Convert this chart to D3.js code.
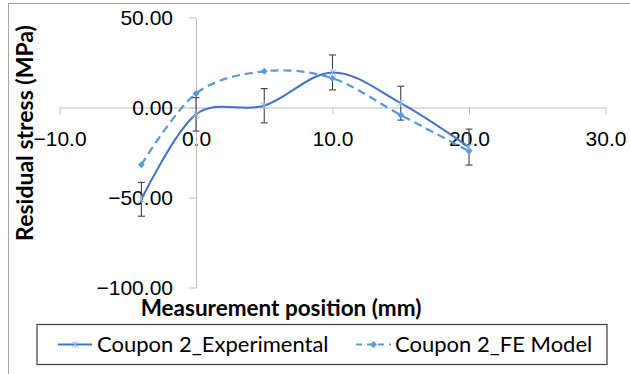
<!DOCTYPE html>
<html>
<head>
<meta charset="utf-8">
<script src="https://cdn.jsdelivr.net/npm/d3@7"></script>
<style>
    body { margin: 0; background: #fff; }
    svg { display: block; font-family: Lato, "Open Sans", sans-serif; }
</style>
</head>
<body>
<div id="chart"></div>
<script>
// Measurement positions (mm)
const positions = [-4, 0, 5, 10, 15, 20];
// Coupon 2 experimental residual stress (MPa) and its error bars
const experimental = [-51, -3.8, 1, 19.5, 2.4, -22];
const expError = [9.4, 9.3, 9.5, 9.7, 9.4, 10];
// Coupon 2 FE model residual stress (MPa)
const feModel = [-31.8, 7.7, 20.1, 16.2, -4.2, -24.2];

const xTicks = [-10, 0, 10, 20, 30];
const yTicks = [50, 0, -50, -100];
const seriesNames = ['Coupon 2_Experimental', 'Coupon 2_FE Model'];

const W = 630, H = 374;
const expColor = '#4472c4';
const feColor = '#5b9bd5';

const svg = d3.select('#chart')
    .append('svg')
    .attr('width', W)
    .attr('height', H);

// chart border (only top and left edges are visible)
svg.append('rect')
    .attr('x', 8.5).attr('y', 3.5)
    .attr('width', 640).attr('height', 400)
    .attr('fill', 'none')
    .attr('stroke', '#a6a6a6');

const x = d3.scaleLinear().domain([-10, 30]).range([59.5, 605.5]);
const y = d3.scaleLinear().domain([-100, 50]).range([287.5, 17.5]);

// x axis crosses at y = 0
const xAxis = svg.append('g')
    .attr('transform', `translate(0,${y(0)})`)
    .call(d3.axisBottom(x).tickValues(xTicks).tickSize(7).tickSizeOuter(0).tickFormat(d3.format('.1f')));

xAxis.select('.domain').attr('stroke', '#bfbfbf');
xAxis.selectAll('.tick line').attr('stroke', '#bfbfbf');
xAxis.selectAll('.tick text')
    .attr('y', 38.5)
    .attr('dy', 0)
    .attr('fill', '#000')
    .style('font-size', '21px');

// y axis crosses at x = 0
const yAxis = svg.append('g')
    .attr('transform', `translate(${x(0)},0)`)
    .call(d3.axisLeft(y).tickValues(yTicks).tickSize(7).tickSizeOuter(0).tickFormat(d3.format('.2f')));

yAxis.select('.domain').attr('stroke', '#bfbfbf');
yAxis.selectAll('.tick line').attr('stroke', '#bfbfbf');
yAxis.selectAll('.tick text')
    .attr('x', -23)
    .attr('dy', '0.34em')
    .attr('fill', '#000')
    .style('font-size', '21px');

// axis titles
svg.append('text')
    .attr('x', 281)
    .attr('y', 316)
    .attr('text-anchor', 'middle')
    .style('font-size', '22.5px')
    .style('font-weight', 'bold')
    .text('Measurement position (mm)');

svg.append('text')
    .attr('transform', 'translate(33,133) rotate(-90)')
    .attr('text-anchor', 'middle')
    .style('font-size', '23px')
    .style('font-weight', 'bold')
    .text('Residual stress (MPa)');

const expData = positions.map((p, i) => ({ x: p, y: experimental[i], err: expError[i] }));
const feData = positions.map((p, i) => ({ x: p, y: feModel[i] }));

const line = d3.line()
    .x(d => x(d.x))
    .y(d => y(d.y))
    .curve(d3.curveCardinal.tension(0));

// FE model series (dashed)
svg.append('path')
    .datum(feData)
    .attr('d', line)
    .attr('fill', 'none')
    .attr('stroke', feColor)
    .attr('stroke-width', 2.25)
    .attr('stroke-dasharray', '8,5');

// experimental series
svg.append('path')
    .datum(expData)
    .attr('d', line)
    .attr('fill', 'none')
    .attr('stroke', expColor)
    .attr('stroke-width', 2);

// error bars
const errG = svg.append('g')
    .attr('stroke', '#404040')
    .attr('stroke-width', 1.1);

expData.forEach(d => {
    const cx = x(d.x);
    const top = y(d.y + d.err);
    const bottom = y(d.y - d.err);
    errG.append('line').attr('x1', cx).attr('x2', cx).attr('y1', top).attr('y2', bottom);
    errG.append('line').attr('x1', cx - 3.5).attr('x2', cx + 3.5).attr('y1', top).attr('y2', top);
    errG.append('line').attr('x1', cx - 3.5).attr('x2', cx + 3.5).attr('y1', bottom).attr('y2', bottom);
});

// markers
function starMarker(g, cx, cy) {
    const s = 3.5;
    g.append('path')
        .attr('d', `M${cx - s},${cy - s}L${cx + s},${cy + s}M${cx - s},${cy + s}L${cx + s},${cy - s}M${cx},${cy - s}L${cx},${cy + s}`)
        .attr('stroke', '#9dbbe8')
        .attr('stroke-width', 1)
        .attr('fill', 'none');
}

function diamondMarker(g, cx, cy) {
    const s = 3.5;
    g.append('path')
        .attr('d', `M${cx},${cy - s}L${cx + s},${cy}L${cx},${cy + s}L${cx - s},${cy}Z`)
        .attr('fill', feColor);
}

const markG = svg.append('g');
feData.forEach(d => diamondMarker(markG, x(d.x), y(d.y)));
expData.forEach(d => starMarker(markG, x(d.x), y(d.y)));

// legend
const legend = svg.append('g');
legend.append('rect')
    .attr('x', 37).attr('y', 324.5)
    .attr('width', 570).attr('height', 40)
    .attr('fill', '#fff')
    .attr('stroke', '#404040')
    .attr('stroke-width', 1.2);

const legendItems = [
    { name: seriesNames[0], x1: 58, x2: 92, tx: 97, color: expColor, dash: null, marker: starMarker },
    { name: seriesNames[1], x1: 356, x2: 391, tx: 395, color: feColor, dash: '6,5', marker: diamondMarker }
];

legendItems.forEach(item => {
    legend.append('line')
        .attr('x1', item.x1).attr('x2', item.x2)
        .attr('y1', 344.5).attr('y2', 344.5)
        .attr('stroke', item.color)
        .attr('stroke-width', 2)
        .attr('stroke-dasharray', item.dash);
    item.marker(legend, (item.x1 + item.x2) / 2, 344.5);
    legend.append('text')
        .attr('x', item.tx)
        .attr('y', 352)
        .style('font-size', '22px')
        .text(item.name);
});
</script>
</body>
</html>
